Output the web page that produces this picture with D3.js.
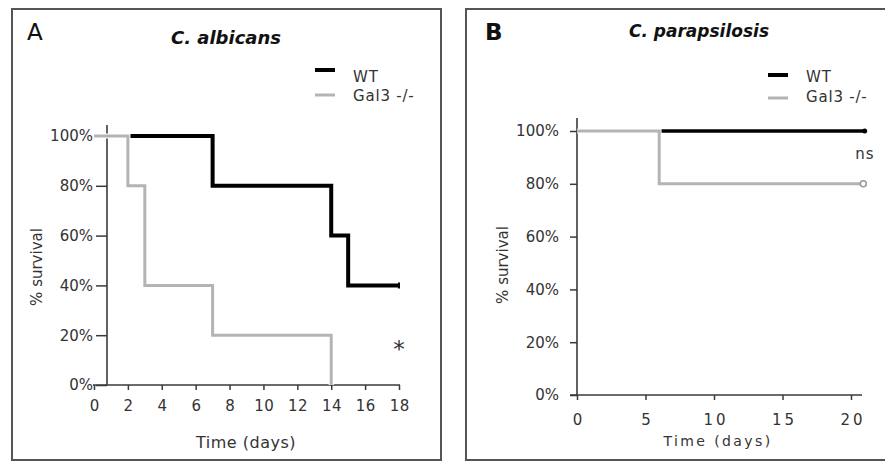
<!DOCTYPE html>
<html><head><meta charset="utf-8">
<script src="https://cdn.jsdelivr.net/npm/d3@7"></script>
<style>
body{margin:0;background:#fff;}
svg{display:block;}
text{font-family:"DejaVu Sans",sans-serif;fill:#333;}
</style></head>
<body>
<script>
// ---- data ----
const seriesNames = ["WT", "Gal3 -/-"];
// Panel A: C. albicans
const aWTdays = [0, 7, 14, 15, 18];
const aWTsurv = [100, 80, 60, 40, 40];
const aGalDays = [0, 2, 3, 7, 14];
const aGalSurv = [100, 80, 40, 20, 0];
const aXTicks = [0, 2, 4, 6, 8, 10, 12, 14, 16, 18];
// Panel B: C. parapsilosis
const bWTdays = [0, 21];
const bWTsurv = [100, 100];
const bGalDays = [0, 6, 21];
const bGalSurv = [100, 80, 80];
const bXTicks = [0, 5, 10, 15, 20];
const yTicks = [0, 20, 40, 60, 80, 100];

const W = 885, H = 462;
const svg = d3.select("body").append("svg").attr("width", W).attr("height", H);

const black = "#000", gray = "#b4b4b4", axisCol = "#3a3a3a";

function panel(o) {
  const g = svg.append("g");
  g.append("rect").attr("x", o.box[0]).attr("y", o.box[1]).attr("width", o.box[2]).attr("height", o.box[3])
    .attr("fill", "#fff").attr("stroke", "#555").attr("stroke-width", 2);
  const x = d3.scaleLinear().domain(o.xDom).range(o.xRange);
  const y = d3.scaleLinear().domain([0, 100]).range(o.yRange);

  // letter and title
  g.append("text").attr("x", o.letterX).attr("y", 40).attr("font-family", "Liberation Sans, Arial, sans-serif")
    .attr("font-size", 23).attr("font-weight", o.letterBold ? "bold" : "normal").style("fill", "#111").text(o.letter);
  g.append("text").attr("x", o.titleX).attr("y", o.titleY).attr("text-anchor", "middle")
    .attr("font-family", "Open Sans, sans-serif").attr("font-style", "italic").attr("font-weight", "bold")
    .attr("font-size", o.titleSize).style("fill", "#111").text(o.title);

  // legend
  const leg = [{c: black, w: 4, ly: o.legY[0], ty: o.legTY[0], t: seriesNames[0]},
               {c: gray, w: 3, ly: o.legY[1], ty: o.legTY[1], t: seriesNames[1]}];
  leg.forEach(d => {
    g.append("line").attr("x1", o.legX).attr("x2", o.legX + 20).attr("y1", d.ly).attr("y2", d.ly)
      .attr("stroke", d.c).attr("stroke-width", d.w);
    g.append("text").attr("x", o.legX + 38).attr("y", d.ty).attr("font-size", 15).style("letter-spacing", "0.8px").text(d.t);
  });

  // axes
  const yAxisX = o.yAxisX;
  const yAx = g.append("g").attr("transform", `translate(${yAxisX},0)`)
    .call(d3.axisLeft(y).tickValues(yTicks).tickFormat(d => d + "%").tickSize(o.yTickLen).tickPadding(o.yPad));
  yAx.select(".domain").remove();
  yAx.append("line").attr("x1", 0).attr("x2", 0).attr("y1", o.yAxisTop).attr("y2", y(0)).attr("stroke", axisCol).attr("stroke-width", 1.6);
  yAx.selectAll(".tick line").attr("stroke", axisCol).attr("stroke-width", 1.5);
  yAx.selectAll(".tick text").attr("font-size", 15).attr("font-family", "DejaVu Sans, sans-serif").style("fill", "#333");

  const xAx = g.append("g").attr("transform", `translate(0,${y(0)})`)
    .call(d3.axisBottom(x).tickValues(o.xTicks).tickSize(5).tickPadding(o.xPad));
  xAx.select(".domain").remove();
  xAx.append("line").attr("x1", o.xAxisStart).attr("x2", o.xAxisEnd).attr("y1", 0).attr("y2", 0).attr("stroke", axisCol).attr("stroke-width", 1.6);
  xAx.selectAll(".tick line").attr("stroke", axisCol).attr("stroke-width", 1.5);
  xAx.selectAll(".tick text").attr("font-size", o.xFont).attr("font-family", "DejaVu Sans, sans-serif")
    .style("letter-spacing", o.xSpacing + "px").attr("dx", (o.xSpacing / 2) + "px").style("fill", "#333");

  // axis titles
  g.append("text").attr("transform", `translate(${o.yTitle[0]},${o.yTitle[1]}) rotate(-90)`)
    .attr("text-anchor", "middle").attr("dominant-baseline", "central").attr("font-size", 15).text("% survival");
  g.append("text").attr("x", o.xTitle[0]).attr("y", o.xTitle[1]).attr("text-anchor", "middle")
    .attr("font-size", o.xTitleSize).style("letter-spacing", o.xTitleSpacing + "px").text("Time (days)");

  // survival curves (gray drawn on top with a white underlay so it hides the overlapping black)
  const line = d3.line().x(d => x(d[0])).y(d => y(d[1])).curve(d3.curveStepAfter);
  const wt = o.wtDays.map((d, i) => [d, o.wtSurv[i]]);
  const gal = o.galDays.map((d, i) => [d, o.galSurv[i]]);
  g.append("path").attr("d", line(wt)).attr("fill", "none").attr("stroke", black).attr("stroke-width", o.wtWidth);
  g.append("path").attr("d", line(gal)).attr("fill", "none").attr("stroke", "#fff").attr("stroke-width", o.wtWidth + 1.2);
  g.append("path").attr("d", line(gal)).attr("fill", "none").attr("stroke", gray).attr("stroke-width", 3);
  return {g, x, y, wt, gal};
}

// Panel A
const A = panel({
  box: [12, 9, 429, 451], letter: "A", letterX: 27, letterBold: false,
  title: "C. albicans", titleX: 226, titleY: 44, titleSize: 18,
  legX: 315, legY: [70, 95], legTY: [82, 101],
  xDom: [0, 18], xRange: [94, 399], yRange: [385, 136],
  yAxisX: 107, yAxisTop: 125, yTickLen: 11, yPad: 3,
  xTicks: aXTicks, xPad: 10, xFont: 15, xSpacing: 0.5,
  xAxisStart: 93, xAxisEnd: 400,
  yTitle: [37, 267], xTitle: [246, 448], xTitleSize: 16, xTitleSpacing: 0.5,
  wtDays: aWTdays, wtSurv: aWTsurv, galDays: aGalDays, galSurv: aGalSurv, wtWidth: 4
});
A.g.append("line").attr("x1", A.x(18)).attr("x2", A.x(18)).attr("y1", A.y(40) - 3).attr("y2", A.y(40) + 3)
  .attr("stroke", black).attr("stroke-width", 2);
A.g.append("text").attr("x", A.x(18)).attr("y", 357).attr("text-anchor", "middle").attr("font-size", 23).style("fill", "#333").text("*");

// Panel B
const B = panel({
  box: [466, 9, 430, 451], letter: "B", letterX: 485, letterBold: true,
  title: "C. parapsilosis", titleX: 699, titleY: 37, titleSize: 17,
  legX: 768, legY: [75, 98], legTY: [82, 102],
  xDom: [0, 20], xRange: [577, 851], yRange: [395, 131],
  yAxisX: 577, yAxisTop: 118, yTickLen: 7, yPad: 11,
  xTicks: bXTicks, xPad: 14, xFont: 15, xSpacing: 3,
  xAxisStart: 570, xAxisEnd: 862,
  yTitle: [503, 265], xTitle: [718, 446], xTitleSize: 14, xTitleSpacing: 2.4,
  wtDays: bWTdays, wtSurv: bWTsurv, galDays: bGalDays, galSurv: bGalSurv, wtWidth: 3.5
});
B.g.append("circle").attr("cx", B.x(21)).attr("cy", B.y(100)).attr("r", 2.5).attr("fill", black);
B.g.append("circle").attr("cx", B.x(20.9)).attr("cy", B.y(80)).attr("r", 3).attr("fill", "#fff").attr("stroke", "#999").attr("stroke-width", 1.5);
B.g.append("text").attr("x", 865).attr("y", 159).attr("text-anchor", "middle").attr("font-size", 15).style("letter-spacing", "1px").text("ns");
</script>
</body></html>
